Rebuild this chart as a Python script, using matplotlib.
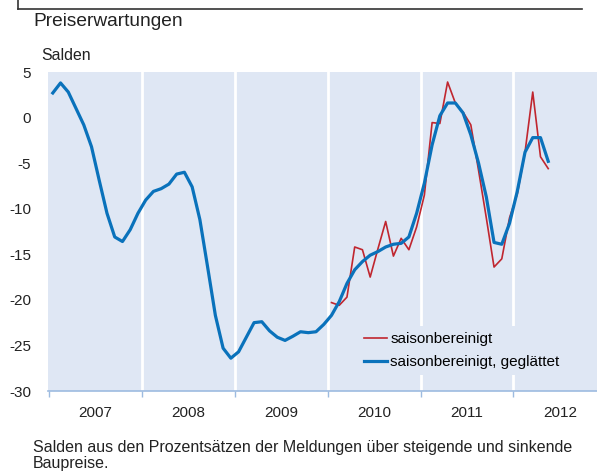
import numpy as np
import matplotlib.pyplot as plt
from matplotlib.lines import Line2D

plt.rcParams['font.family'] = ['Liberation Sans', 'DejaVu Sans']
plt.rcParams['axes.unicode_minus'] = False

# monthly values, smoothed series starts Jan 2007, raw series starts Jan 2010
smoothed = [2.7, 3.8, 2.8, 1.0, -0.8, -3.2, -6.9, -10.5, -13.1, -13.6, -12.3, -10.5,
            -9.05, -8.1, -7.8, -7.3, -6.2, -6.0, -7.6, -11.2, -16.4, -21.7, -25.3, -26.4,
            -25.7, -24.1, -22.5, -22.4, -23.4, -24.1, -24.45, -24.0, -23.5, -23.6, -23.5, -22.7,
            -21.7, -20.2, -18.2, -16.7, -15.8, -15.1, -14.7, -14.2, -13.9, -13.8, -13.1, -10.5,
            -7.2, -3.0, 0.2, 1.6, 1.6, 0.5, -1.9, -5.0, -8.7, -13.7, -13.9, -11.6,
            -8.1, -3.8, -2.2, -2.2, -4.8]
raw = [-20.3, -20.6, -19.7, -14.2, -14.5, -17.5, -14.4, -11.4, -15.2, -13.25, -14.5, -12.0,
       -8.5, -0.55, -0.65, 3.9, 1.6, 0.6, -0.8, -5.8, -11.0, -16.4, -15.5, -11.0,
       -8.4, -3.8, 2.8, -4.3, -5.6]
years = [2007, 2008, 2009, 2010, 2011, 2012]
yticks = [5, 0, -5, -10, -15, -20, -25, -30]

bg = '#dfe7f4'
blue = '#0a72bb'
red = '#c0262f'

x_s = 2007 + (np.arange(len(smoothed)) + 0.5) / 12
x_r = 2010 + (np.arange(len(raw)) + 0.5) / 12

fig = plt.figure(figsize=(5.97, 4.72), dpi=100)
W, H = 597, 472
ax = fig.add_axes([48 / W, 1 - 391 / H, (597 - 48) / W, (391 - 72) / H])
ax.set_facecolor(bg)

for yr in years[1:]:
    ax.axvline(yr, color='white', lw=2, zorder=1)

ax.plot(x_r, raw, color=red, lw=1.2, zorder=3, label='saisonbereinigt')
ax.plot(x_s, smoothed, color=blue, lw=2.3, zorder=4, label='saisonbereinigt, geglättet')

ax.set_xlim(2006.99, 2012.9)
ax.set_ylim(-30, 5)
ax.set_yticks(yticks)
ax.set_xticks(years)
ax.set_xticklabels([])
ax.set_xticks([y + 0.5 for y in years], minor=True)
ax.set_xticklabels([str(y) for y in years], minor=True)
ax.tick_params(axis='x', which='major', length=4, color='#9dbbe0', width=1)
ax.tick_params(axis='x', which='minor', length=0, labelsize=11, pad=11, labelcolor='#222222')
ax.tick_params(axis='y', length=0, labelsize=11, pad=12, labelcolor='#222222')
for s in ['top', 'right', 'left']:
    ax.spines[s].set_visible(False)
ax.spines['bottom'].set_color('#9dbbe0')
ax.spines['bottom'].set_linewidth(1.2)

leg = ax.legend(loc='lower left', bbox_to_anchor=(302 / 549, 0.025), frameon=True,
                facecolor=bg, edgecolor='none', framealpha=1, fontsize=11,
                handlelength=1.5, handletextpad=0.25, borderpad=0.4, labelspacing=0.6,
                fancybox=False)
leg.set_zorder(5)

# header frame
fig.add_artist(Line2D([18 / W, 582 / W], [1 - 9 / H, 1 - 9 / H], color='#333333', lw=1.2))
fig.add_artist(Line2D([18 / W, 18 / W], [1 - 9 / H, 1.0], color='#333333', lw=1.2))

fig.text(33 / W, 1 - 22 / H, 'Preiserwartungen', fontsize=13.8, va='center', ha='left', color='#222222')
fig.text(41 / W, 1 - 55 / H, 'Salden', fontsize=11.4, va='center', ha='left', color='#222222')
fig.text(33 / W, 1 - 440 / H,
         'Salden aus den Prozentsätzen der Meldungen über steigende und sinkende\nBaupreise.',
         fontsize=11.5, va='top', ha='left', color='#222222', linespacing=1.05)

fig.savefig('out.png', dpi=100)
plt.close(fig)
